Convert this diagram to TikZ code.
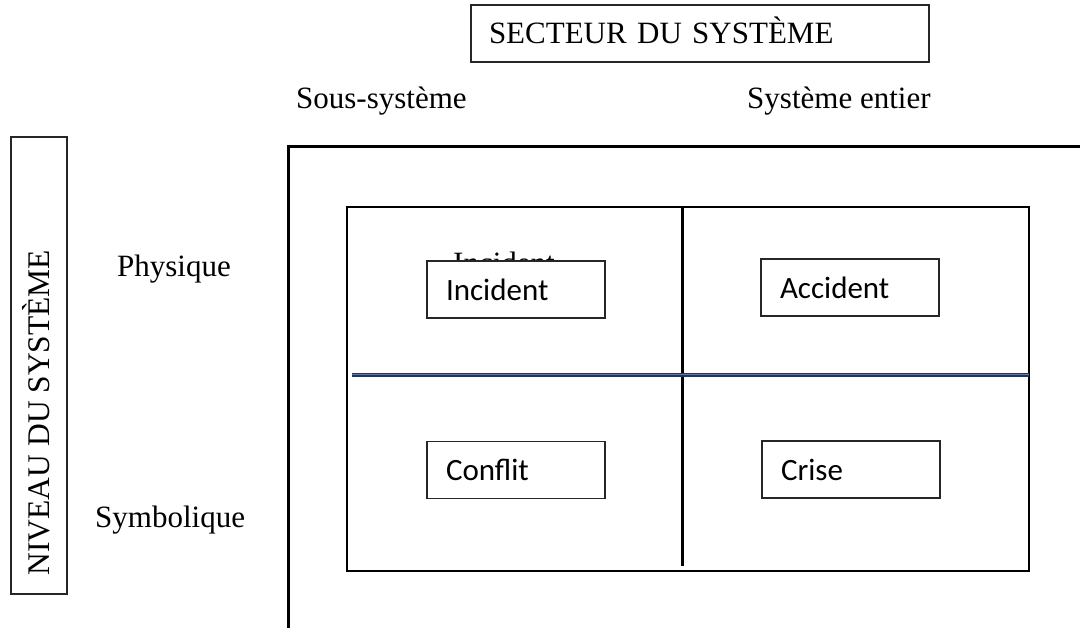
\documentclass[tikz,border=0pt]{standalone}
\usepackage{fontspec}
\setmainfont{Liberation Serif}
\newfontfamily\boxfont{Carlito}
\begin{document}
\begin{tikzpicture}[x=1pt,y=-1pt,
  lbl/.style={font=\fontsize{31}{36}\selectfont, inner sep=0pt, anchor=base west},
  cellbox/.style={draw=black!85, line width=1.2pt, fill=white, font=\boxfont\fontsize{31}{36}\selectfont,
     minimum width=178pt, minimum height=57pt, inner xsep=19pt, text width=140pt, align=left,
     text height=22pt, text depth=0pt, inner ysep=0pt},
  thick frame/.style={line width=3pt, black},
  grid line/.style={line width=2.6pt, black}]
\useasboundingbox (0,0) rectangle (1080,628);
\fill[white] (0,0) rectangle (1080,628);
% header
\node (sect) [draw=black!85, line width=1.2pt, minimum width=458pt, minimum height=57pt,
   inner xsep=18pt, text width=422pt, align=left, text height=20pt, text depth=0pt, inner ysep=0pt,
   font=\fontsize{31}{36}\selectfont] at (700,33.5) {SECTEUR DU SYST\`EME};
\node (sous) [lbl] at (296,109) {Sous-syst\`eme};
\node (entier) [lbl] at (747,109) {Syst\`eme entier};
% left
\node (nivbox) [draw=black!85, line width=1.2pt, minimum width=56pt, minimum height=457pt, inner sep=0pt] at (39,365.5) {};
\node (niv) [font=\fontsize{31.5}{36}\selectfont, inner sep=0pt, rotate=90, anchor=base] at (49,412.5) {NIVEAU DU SYST\`EME};
\node (phys) [lbl] at (117,277) {Physique};
\node (symb) [lbl] at (95,527) {Symbolique};
% frame
\draw[thick frame] (288,628) -- (288,147) -- (1080,147);
% inner grid
\draw[grid line] (347,207) rectangle (1029,571);
\draw[grid line, line width=3pt] (682,207) -- (682,566);
\draw[line width=3.4pt, color={rgb,255:red,40;green,52;blue,75}] (352,375) -- (1029,375);
\draw[line width=1pt, color={rgb,255:red,95;green,125;blue,175}] (352,375) -- (1029,375);
% hidden serif text
\node (incback) [lbl, anchor=base west] at (453,274) {Incident};
% cells
\node (inc) [cellbox] at (516,289.5) {Incident};
\node (acc) [cellbox] at (850,287.5) {Accident};
\node (conf) [cellbox] at (516,470) {Conflit};
\node (cris) [cellbox] at (851,469.5) {Crise};
\end{tikzpicture}
\end{document}
